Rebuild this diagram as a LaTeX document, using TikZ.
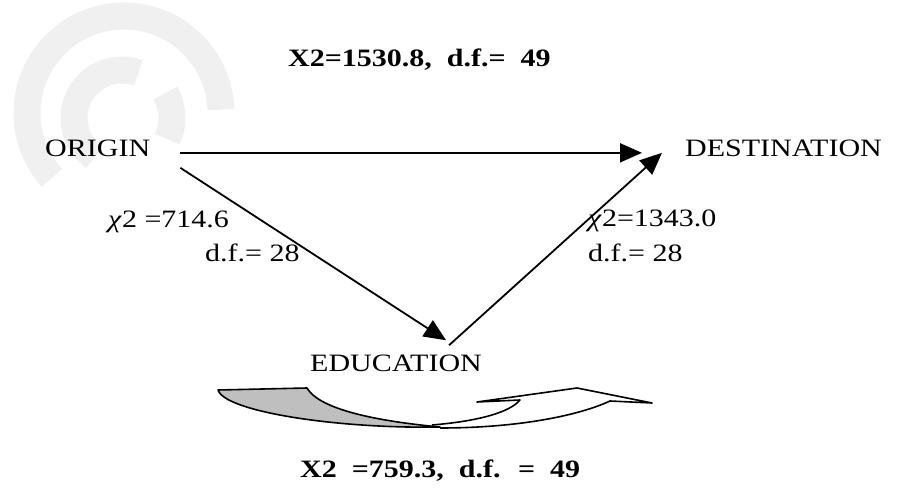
\documentclass[tikz,border=0pt]{standalone}
\usepackage{fontspec}
\setmainfont{Liberation Serif}[FakeStretch=1.2]
\usetikzlibrary{arrows.meta}

\begin{document}
\begin{tikzpicture}[x=1pt,y=-1pt,>={Triangle[length=22pt,width=19pt]},
  lbl/.style={anchor=base west,inner sep=0pt,font=\fontsize{25}{30}\selectfont},
  stat/.style={lbl,font=\fontsize{25}{30}\selectfont\bfseries},
  link/.style={->,line width=1.8pt}]
\useasboundingbox (0,0) rectangle (898,497);
\begin{scope}[gray!12,line width=27pt]
\draw (124,113) ++(138:97) arc[start angle=138,end angle=358,radius=97];
\draw (122,118) ++(125:48) arc[start angle=125,end angle=290,radius=48];
\draw (122,118) ++(-30:50) arc[start angle=-30,end angle=25,radius=50];
\end{scope}
\node[lbl] (origin) at (45,157) {ORIGIN};
\node[lbl] (dest) at (685,157) {DESTINATION};
\node[lbl] (educ) at (310,372) {EDUCATION};
\node[stat] (topstat) at (288,67) {X2=1530.8, \ d.f.= \ 49};
\node[stat] (botstat) at (300,477) {X2 \ =759.3, \ d.f. \ = \ 49};
\node[lbl] (chiL) at (108,228) {\textit{χ}2 =714.6};
\node[lbl] (dfL) at (205,262) {d.f.= 28};
\node[lbl] (chiR) at (588,227) {\textit{χ}2=1343.0};
\node[lbl] (dfR) at (588,262) {d.f.= 28};
\draw[link] ([xshift=30pt,yshift=-4pt]origin.east) -- ([xshift=-43pt,yshift=-4pt]dest.west);
\draw[link] ([xshift=30pt,yshift=-19pt]origin.east) -- ([xshift=50pt,yshift=15pt]educ.north);
\draw[link] ([xshift=53pt,yshift=10pt]educ.north) -- ([xshift=-23pt,yshift=-4pt]dest.west);
\filldraw[fill=gray!50,line width=1.6pt,line join=round] (218,390) -- (307,388)
  .. controls (318,407) and (365,420) .. (440,427)
  .. controls (340,429) and (225,412) .. (218,390) -- cycle;
\draw[line width=1.6pt,line join=round] (440,428) .. controls (520,428) and (580,415) .. (610,401)
  -- (652,403) -- (577,388) -- (477,402) -- (520,400)
  .. controls (510,412) and (480,421) .. (432,425);
\end{tikzpicture}
\end{document}
